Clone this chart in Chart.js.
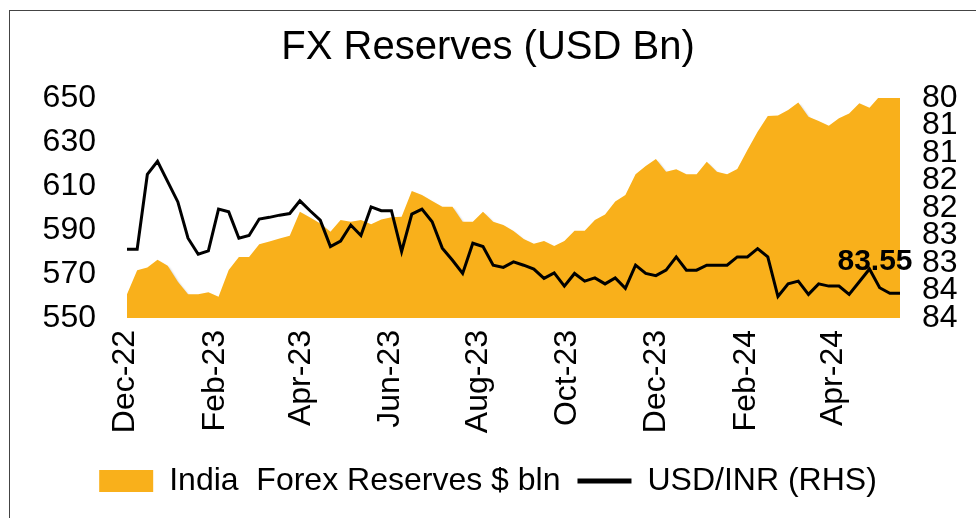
<!DOCTYPE html>
<html>
<head>
<meta charset="utf-8">
<script src="https://cdn.jsdelivr.net/npm/chart.js@4.4.1/dist/chart.umd.min.js"></script>
<style>
  html, body { margin: 0; padding: 0; background: #fff; }
  #wrap { position: relative; width: 976px; height: 518px; overflow: hidden; }
  #frame { position: absolute; left: 9px; top: 10px; width: 1000px; height: 600px; border: 1px solid #444; box-sizing: border-box; }
  canvas { position: absolute; left: 0; top: 0; }
</style>
</head>
<body>
<div id="wrap">
  <div id="frame"></div>
  <canvas id="fxChart" width="976" height="518"></canvas>
</div>
<script>
// weekly observations (Fridays)
const weekDates = [
    '2022-12-02', '2022-12-09', '2022-12-16', '2022-12-23', '2022-12-30',
    '2023-01-06', '2023-01-13', '2023-01-20', '2023-01-27',
    '2023-02-03', '2023-02-10', '2023-02-17', '2023-02-24',
    '2023-03-03', '2023-03-10', '2023-03-17', '2023-03-24', '2023-03-31',
    '2023-04-07', '2023-04-14', '2023-04-21', '2023-04-28',
    '2023-05-05', '2023-05-12', '2023-05-19', '2023-05-26',
    '2023-06-02', '2023-06-09', '2023-06-16', '2023-06-23', '2023-06-30',
    '2023-07-07', '2023-07-14', '2023-07-21', '2023-07-28',
    '2023-08-04', '2023-08-11', '2023-08-18', '2023-08-25',
    '2023-09-01', '2023-09-08', '2023-09-15', '2023-09-22', '2023-09-29',
    '2023-10-06', '2023-10-13', '2023-10-20', '2023-10-27',
    '2023-11-03', '2023-11-10', '2023-11-17', '2023-11-24',
    '2023-12-01', '2023-12-08', '2023-12-15', '2023-12-22', '2023-12-29',
    '2024-01-05', '2024-01-12', '2024-01-19', '2024-01-26',
    '2024-02-02', '2024-02-09', '2024-02-16', '2024-02-23',
    '2024-03-01', '2024-03-08', '2024-03-15', '2024-03-22', '2024-03-29',
    '2024-04-05', '2024-04-12', '2024-04-19', '2024-04-26',
    '2024-05-03', '2024-05-10', '2024-05-17'
];

// India forex reserves, USD bn (left axis)
const reserves = [
    560.8, 571.7, 572.9, 576.5, 573.8, 566.5, 560.8, 560.8, 561.7, 559.7,
    571.8, 577.7, 577.7, 583.5, 584.8, 586.1, 587.4, 598.3, 595.7, 593.0,
    589.2, 594.5, 593.8, 594.5, 592.6, 594.8, 595.8, 596.0, 607.7, 605.9,
    603.2, 600.6, 600.6, 593.8, 593.8, 598.3, 593.8, 592.3, 589.5, 585.9,
    583.8, 585.0, 582.7, 585.0, 589.7, 589.7, 594.5, 597.1, 602.9, 605.9,
    615.3, 619.1, 622.3, 616.5, 617.6, 615.3, 615.3, 621.0, 616.5, 615.3,
    617.7, 626.4, 634.7, 641.8, 642.0, 644.5, 648.0, 641.5, 639.5, 637.4,
    640.8, 643.0, 647.6, 645.6, 650.8, 651.5, 651.5
];

// USD/INR (right axis, inverted)
const usdInr = [
    82.75, 82.75, 81.39, 81.15, 81.52, 81.89, 82.55, 82.84, 82.78, 82.02,
    82.07, 82.55, 82.50, 82.20, 82.17, 82.13, 82.10, 81.87, 82.05, 82.22,
    82.70, 82.60, 82.31, 82.50, 81.98, 82.05, 82.05, 82.79, 82.11, 82.02,
    82.25, 82.73, 82.95, 83.19, 82.64, 82.70, 83.04, 83.08, 82.98, 83.04,
    83.11, 83.28, 83.18, 83.42, 83.19, 83.33, 83.27, 83.38, 83.27, 83.46,
    83.04, 83.19, 83.23, 83.13, 82.89, 83.13, 83.13, 83.04, 83.04, 83.04,
    82.89, 82.89, 82.74, 82.89, 83.61, 83.38, 83.33, 83.57, 83.38, 83.42,
    83.42, 83.57, 83.34, 83.11, 83.45, 83.55, 83.55
];

const tickDates  = ['2022-12-01', '2023-02-01', '2023-04-01', '2023-06-01', '2023-08-01',
                    '2023-10-01', '2023-12-01', '2024-02-01', '2024-04-01'];
const tickLabels = ['Dec-22', 'Feb-23', 'Apr-23', 'Jun-23', 'Aug-23',
                    'Oct-23', 'Dec-23', 'Feb-24', 'Apr-24'];

const FONT = '"Liberation Sans", Arial, Helvetica, sans-serif';
const ORANGE = '#F9B01B';

function dayNum(d) {
    return Date.parse(d) / 86400000;
}

// soft shadow under the area, none under the line
const areaShadow = {
    id: 'areaShadow',
    beforeDatasetsDraw(chart) {
        const ctx = chart.ctx;
        ctx.shadowColor = 'rgba(0, 0, 0, 0.18)';
        ctx.shadowOffsetX = 2;
        ctx.shadowOffsetY = 2;
        ctx.shadowBlur = 2;
    },
    beforeDatasetDraw(chart, args) {
        if (args.index === 1) {
            chart.ctx.shadowColor = 'rgba(0, 0, 0, 0)';
        }
    },
    afterDatasetsDraw(chart) {
        chart.ctx.shadowColor = 'rgba(0, 0, 0, 0)';
    }
};

// value label for the latest USD/INR print
const lastLabel = {
    id: 'lastLabel',
    afterDatasetsDraw(chart) {
        const meta = chart.getDatasetMeta(1);
        const pt = meta.data[meta.data.length - 1];
        const ctx = chart.ctx;
        ctx.save();
        ctx.font = 'bold 30px ' + FONT;
        ctx.fillStyle = '#000';
        ctx.textAlign = 'center';
        ctx.textBaseline = 'alphabetic';
        ctx.fillText(usdInr[usdInr.length - 1].toFixed(2), pt.x - 25, pt.y - 23);
        ctx.restore();
    }
};

Chart.defaults.font.family = FONT;
Chart.defaults.color = '#000';

new Chart(document.getElementById('fxChart'), {
    type: 'line',
    data: {
        datasets: [{
            label: 'India  Forex Reserves $ bln',
            data: reserves.map((v, i) => ({ x: dayNum(weekDates[i]), y: v })),
            yAxisID: 'y',
            backgroundColor: ORANGE,
            borderColor: 'rgba(0,0,0,0)',
            borderWidth: 0,
            fill: 'start',
            pointRadius: 0,
            pointStyle: 'rect',
            tension: 0,
            order: 2
        }, {
            label: 'USD/INR (RHS)',
            data: usdInr.map((v, i) => ({ x: dayNum(weekDates[i]), y: v })),
            yAxisID: 'y1',
            borderColor: '#000',
            backgroundColor: '#000',
            borderWidth: 3,
            fill: false,
            pointRadius: 0,
            pointStyle: 'line',
            tension: 0,
            order: 1
        }]
    },
    options: {
        responsive: false,
        animation: false,
        layout: { padding: { top: 12, left: 0, right: 0, bottom: 11 } },
        plugins: {
            title: {
                display: true,
                text: 'FX Reserves (USD Bn)',
                font: { size: 40, weight: 'normal' },
                color: '#000',
                padding: { top: 12, bottom: 26 }
            },
            legend: {
                position: 'bottom',
                labels: {
                    usePointStyle: true,
                    pointStyleWidth: 54,
                    boxHeight: 22,
                    padding: 17,
                    color: '#000',
                    font: { size: 32 },
                    generateLabels: chart => {
                        const items = Chart.defaults.plugins.legend.labels.generateLabels(chart);
                        items.forEach(it => {
                            if (it.datasetIndex === 1) {
                                it.lineWidth = 5;
                                it.strokeStyle = '#000';
                            } else {
                                it.lineWidth = 0;
                                it.fillStyle = ORANGE;
                            }
                        });
                        return items.sort((a, b) => a.datasetIndex - b.datasetIndex);
                    }
                }
            },
            tooltip: { enabled: false }
        },
        scales: {
            x: {
                type: 'linear',
                min: dayNum(weekDates[0]),
                max: dayNum(weekDates[weekDates.length - 1]),
                afterBuildTicks: scale => {
                    scale.ticks = tickDates.map(d => ({ value: dayNum(d) }));
                },
                ticks: {
                    callback: (v, i) => tickLabels[i],
                    autoSkip: false,
                    minRotation: 90,
                    maxRotation: 90,
                    padding: 12,
                    font: { size: 32 }
                },
                grid: { display: false, drawTicks: false },
                border: { display: false },
                afterFit: scale => { scale.height = 130; }
            },
            y: {
                position: 'left',
                min: 550,
                max: 650,
                ticks: { stepSize: 20, padding: 31, autoSkip: false, font: { size: 32 } },
                grid: { display: false, drawTicks: false },
                border: { display: false },
                afterFit: scale => { scale.width = 127; }
            },
            y1: {
                position: 'right',
                reverse: true,
                min: 80,
                max: 84,
                ticks: {
                    stepSize: 0.5,
                    padding: 22,
                    autoSkip: false,
                    font: { size: 32 },
                    callback: v => Math.round(v)
                },
                grid: { display: false, drawTicks: false },
                border: { display: false },
                afterFit: scale => { scale.width = 76; }
            }
        }
    },
    plugins: [areaShadow, lastLabel]
});
</script>
</body>
</html>
